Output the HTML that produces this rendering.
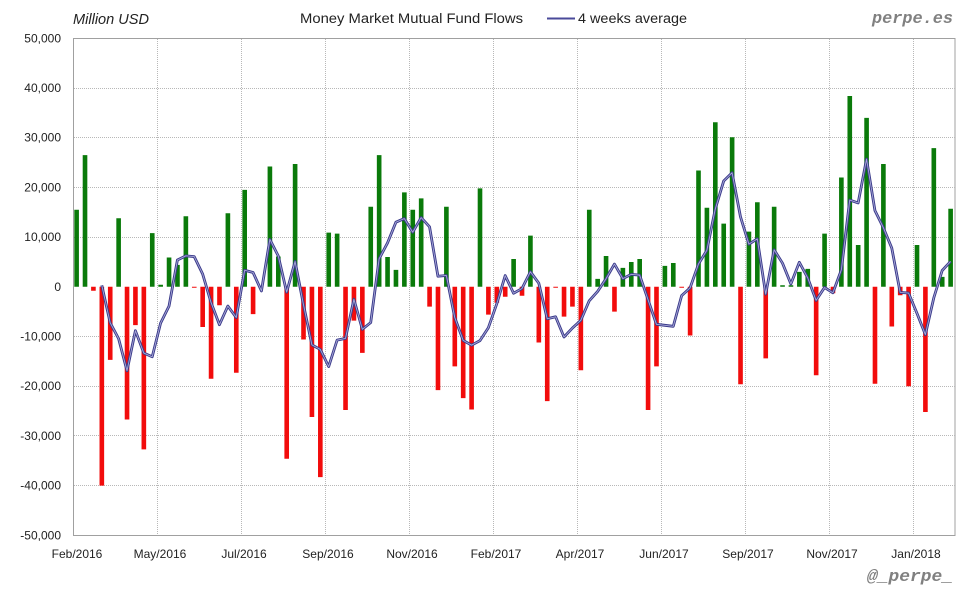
<!DOCTYPE html>
<html>
<head>
<meta charset="utf-8">
<style>
html,body{margin:0;padding:0;background:#fff;}
svg{display:block;}
text{font-family:"Liberation Sans",sans-serif;}
</style>
</head>
<body>
<svg width="980" height="600" viewBox="0 0 980 600" xmlns="http://www.w3.org/2000/svg">
<defs>
<polyline id="avg" fill="none" vector-effect="non-scaling-stroke" stroke-linejoin="round" points="3.27,0.3 4.27,-7.25 5.27,-10.43 6.27,-16.9 7.27,-8.83 8.27,-13.33 9.27,-14.08 10.27,-7.3 11.27,-3.9 12.27,5.38 13.27,6.23 14.27,6.08 15.27,2.58 16.27,-3.15 17.27,-7.63 18.27,-3.88 19.27,-6.18 20.27,3.33 21.27,2.88 22.27,-0.83 23.27,9.55 24.27,6.2 25.27,-1.08 26.27,5.1 27.27,-3.6 28.27,-11.68 29.27,-12.6 30.27,-16.05 31.27,-10.73 32.27,-10.38 33.27,-2.5 34.27,-8.55 35.27,-7.2 36.27,5.63 37.27,8.83 38.27,13 39.27,13.73 40.27,10.98 41.27,13.93 42.27,12.08 43.27,2.13 44.27,2.28 45.27,-6.18 46.27,-10.78 47.27,-11.75 48.27,-10.83 49.27,-8.23 50.27,-3.43 51.27,2.25 52.27,-1.3 53.27,-0.35 54.27,3.03 55.27,0.73 56.27,-6.43 57.27,-6.03 58.27,-10.1 59.27,-8.3 60.27,-6.75 61.27,-2.83 62.27,-0.93 63.27,1.63 64.27,4.58 65.27,1.65 66.27,2.5 67.27,2.35 68.27,-2.6 69.27,-7.55 70.27,-7.75 71.27,-7.95 72.27,-1.78 73.27,-0.23 74.27,4.58 75.27,7.35 76.27,15.65 77.27,21.28 78.27,22.95 79.27,14.08 80.27,8.58 81.27,9.65 82.27,-1.48 83.27,7.45 84.27,4.75 85.27,0.58 86.27,4.93 87.27,1.8 88.27,-2.73 89.27,-0.13 90.27,-1.2 91.27,3.4 92.27,17.45 93.27,16.88 94.27,25.7 95.27,15.33 96.27,11.9 97.27,7.8 98.27,-1.13 99.27,-1.25 100.27,-5.33 101.27,-9.63 102.27,-2.23 103.27,3.28 104.27,5.1"/>
</defs>
<rect x="0" y="0" width="980" height="600" fill="#fff"/>

<text x="73" y="24" font-size="14.5" font-style="italic" fill="#222" textLength="76" lengthAdjust="spacingAndGlyphs">Million USD</text>
<text x="300" y="23" font-size="13.5" fill="#222" textLength="223" lengthAdjust="spacingAndGlyphs">Money Market Mutual Fund Flows</text>
<line x1="547" y1="18.5" x2="575" y2="18.5" stroke="#4a4a9a" stroke-width="2"/>
<text x="578" y="23" font-size="13.5" fill="#222" textLength="109" lengthAdjust="spacingAndGlyphs">4 weeks average</text>
<text x="872" y="23" font-size="17" font-weight="bold" font-style="italic" fill="#808080" style="font-family:'Liberation Mono',monospace" textLength="81" lengthAdjust="spacingAndGlyphs">perpe.es</text>
<text x="867" y="581" font-size="17" font-weight="bold" font-style="italic" fill="#808080" style="font-family:'Liberation Mono',monospace" textLength="86" lengthAdjust="spacingAndGlyphs">@_perpe_</text>

<rect x="73.5" y="38.5" width="881.5" height="497" fill="#fff" stroke="#a0a0a0" stroke-width="1"/>

<path fill="none" stroke="#b8b8b8" stroke-width="1" stroke-dasharray="1,1" d="M74 88.5H955M74 137.5H955M74 187.5H955M74 237.5H955M74 336.5H955M74 386.5H955M74 435.5H955M74 485.5H955M157.5 39V535M241.5 39V535M325.5 39V535M409.5 39V535M493.5 39V535M577.5 39V535M661.5 39V535M745.5 39V535M829.5 39V535M913.5 39V535"/>

<g font-size="12" fill="#222" text-anchor="end">
<text x="61" y="42.5">50,000</text>
<text x="61" y="92">40,000</text>
<text x="61" y="141.5">30,000</text>
<text x="61" y="191.5">20,000</text>
<text x="61" y="241">10,000</text>
<text x="61" y="291">0</text>
<text x="61" y="340.5">-10,000</text>
<text x="61" y="390">-20,000</text>
<text x="61" y="440">-30,000</text>
<text x="61" y="489.5">-40,000</text>
<text x="61" y="539.5">-50,000</text>
</g>

<g font-size="12" fill="#222" text-anchor="middle">
<text x="77" y="558">Feb/2016</text>
<text x="160" y="558">May/2016</text>
<text x="244" y="558">Jul/2016</text>
<text x="328" y="558">Sep/2016</text>
<text x="412" y="558">Nov/2016</text>
<text x="496" y="558">Feb/2017</text>
<text x="580" y="558">Apr/2017</text>
<text x="664" y="558">Jun/2017</text>
<text x="748" y="558">Sep/2017</text>
<text x="832" y="558">Nov/2017</text>
<text x="916" y="558">Jan/2018</text>
</g>

<g transform="translate(74.3,286.8) scale(8.404,-4.97)">
<path fill="#0a7a0a" d="M0 0v15.5h.55V0zM1 0v26.5h.55V0zM5 0v13.8h.55V0zM9 0v10.8h.55V0zM10 0v.4h.55V0zM11 0v5.9h.55V0zM12 0v4.4h.55V0zM13 0v14.2h.55V0zM18 0v14.8h.55V0zM20 0v19.5h.55V0zM23 0v24.2h.55V0zM24 0v6.1h.55V0zM26 0v24.7h.55V0zM30 0v10.9h.55V0zM31 0v10.7h.55V0zM35 0v16.1h.55V0zM36 0v26.5h.55V0zM37 0v6h.55V0zM38 0v3.4h.55V0zM39 0v19h.55V0zM40 0v15.5h.55V0zM41 0v17.8h.55V0zM44 0v16.1h.55V0zM48 0v19.8h.55V0zM52 0v5.6h.55V0zM54 0v10.3h.55V0zM61 0v15.5h.55V0zM62 0v1.6h.55V0zM63 0v6.2h.55V0zM65 0v3.8h.55V0zM66 0v5h.55V0zM67 0v5.6h.55V0zM70 0v4.2h.55V0zM71 0v4.8h.55V0zM74 0v23.4h.55V0zM75 0v15.9h.55V0zM76 0v33.1h.55V0zM77 0v12.7h.55V0zM78 0v30.1h.55V0zM80 0v11.1h.55V0zM81 0v17h.55V0zM83 0v16.1h.55V0zM84 0v.3h.55V0zM85 0v.3h.55V0zM86 0v3h.55V0zM87 0v3.6h.55V0zM89 0v10.7h.55V0zM91 0v22h.55V0zM92 0v38.4h.55V0zM93 0v8.4h.55V0zM94 0v34h.55V0zM96 0v24.7h.55V0zM100 0v8.4h.55V0zM102 0v27.9h.55V0zM103 0v2h.55V0zM104 0v15.7h.55V0z"/>
<path fill="#f20c0c" d="M2 0v-.8h.55V0zM3 0v-40h.55V0zM4 0v-14.7h.55V0zM6 0v-26.7h.55V0zM7 0v-7.7h.55V0zM8 0v-32.7h.55V0zM14 0v-.2h.55V0zM15 0v-8.1h.55V0zM16 0v-18.5h.55V0zM17 0v-3.7h.55V0zM19 0v-17.3h.55V0zM21 0v-5.5h.55V0zM25 0v-34.6h.55V0zM27 0v-10.6h.55V0zM28 0v-26.2h.55V0zM29 0v-38.3h.55V0zM32 0v-24.8h.55V0zM33 0v-6.8h.55V0zM34 0v-13.3h.55V0zM42 0v-4h.55V0zM43 0v-20.8h.55V0zM45 0v-16h.55V0zM46 0v-22.4h.55V0zM47 0v-24.7h.55V0zM49 0v-5.6h.55V0zM50 0v-3.2h.55V0zM51 0v-2h.55V0zM53 0v-1.8h.55V0zM55 0v-11.2h.55V0zM56 0v-23h.55V0zM57 0v-.2h.55V0zM58 0v-6h.55V0zM59 0v-4h.55V0zM60 0v-16.8h.55V0zM64 0v-5h.55V0zM68 0v-24.8h.55V0zM69 0v-16h.55V0zM72 0v-.2h.55V0zM73 0v-9.8h.55V0zM79 0v-19.6h.55V0zM82 0v-14.4h.55V0zM88 0v-17.8h.55V0zM90 0v-1.3h.55V0zM95 0v-19.5h.55V0zM97 0v-8h.55V0zM98 0v-1.7h.55V0zM99 0v-20h.55V0zM101 0v-25.2h.55V0z"/>
<use href="#avg" stroke="#3a3a8a" stroke-width="2.8"/>
<use href="#avg" stroke="#a8a8d8" stroke-width="0.9"/>
</g>
</svg>
</body>
</html>
